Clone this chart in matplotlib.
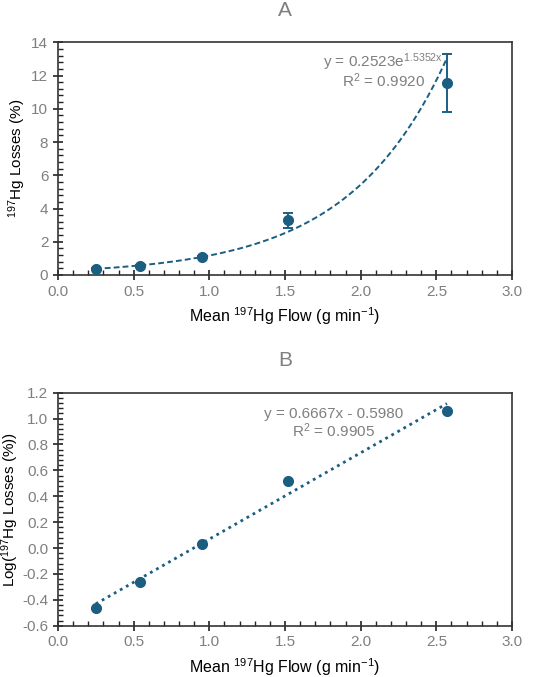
import numpy as np
import matplotlib
matplotlib.use('Agg')
import matplotlib.pyplot as plt
import matplotlib.ticker as mticker

# dados
fluxo = [0.25, 0.54, 0.95, 1.52, 2.57]
perdas = [0.35, 0.55, 1.08, 3.30, 11.55]
erro_perdas = [0.05, 0.05, 0.08, 0.45, 1.75]
log_perdas = [-0.46, -0.26, 0.03, 0.52, 1.06]

# coeficientes das linhas de tendencia (rotulos do grafico)
exp_a, exp_b = 0.2523, 1.5352
lin_m, lin_c = 0.6667, -0.5980

COR = '#1b5e82'
CINZA = '#7f7f7f'

plt.rcParams['font.family'] = ['Liberation Sans', 'DejaVu Sans']
plt.rcParams['mathtext.default'] = 'regular'

fig = plt.figure(figsize=(5.34, 6.77), dpi=100)
ax1 = fig.add_axes([0.1086, 0.5938, 0.8502, 0.3437])
ax2 = fig.add_axes([0.1086, 0.0758, 0.8502, 0.3442])


def estilo(ax, ymin, ymax, ymaj, ymin_step):
    ax.set_xlim(0, 3)
    ax.set_ylim(ymin, ymax)
    ax.xaxis.set_major_locator(mticker.MultipleLocator(0.5))
    ax.xaxis.set_minor_locator(mticker.MultipleLocator(0.1))
    ax.yaxis.set_major_locator(mticker.MultipleLocator(ymaj))
    ax.yaxis.set_minor_locator(mticker.MultipleLocator(ymin_step))
    ax.xaxis.set_major_formatter(mticker.FormatStrFormatter('%.1f'))
    ax.tick_params(which='major', direction='inout', length=7, width=1.2,
                   labelsize=11, colors='#222222')
    ax.tick_params(which='minor', direction='in', length=3.5, width=1,
                   colors='#222222')
    ax.tick_params(axis='both', which='major', labelcolor=CINZA)
    for s in ax.spines.values():
        s.set_color('#333333')
        s.set_linewidth(1.2)
    ax.set_xlabel('Mean $^{197}$Hg Flow (g min$^{-1}$)', fontsize=11.5, labelpad=5)


# --- grafico A ---
estilo(ax1, 0, 14, 2, 0.4)
ax1.yaxis.set_major_formatter(mticker.FormatStrFormatter('%d'))
xx = np.linspace(fluxo[0], fluxo[-1], 200)
ax1.plot(xx, exp_a * np.exp(exp_b * xx), linestyle=(0, (3, 1.6)), color=COR, lw=1.4)
ax1.errorbar(fluxo, perdas, yerr=erro_perdas, fmt='o', color=COR, ms=7,
             capsize=3.5, elinewidth=1.4, capthick=1.4, zorder=3)
ax1.set_ylabel('$^{197}$Hg Losses (%)', fontsize=11, va='center')
ax1.yaxis.set_label_coords(-0.09, 0.5)
ax1.text(2.15, 12.8, 'y = 0.2523e$^{1.5352x}$', ha='center', va='center',
         color=CINZA, fontsize=11)
ax1.text(2.15, 11.67, 'R$^{2}$ = 0.9920', ha='center', va='center',
         color=CINZA, fontsize=11)
fig.text(0.5335, 0.985, 'A', ha='center', va='center', fontsize=15, color=CINZA)

# --- grafico B ---
estilo(ax2, -0.6, 1.2, 0.2, 0.04)
ax2.yaxis.set_major_formatter(mticker.FormatStrFormatter('%.1f'))
ax2.plot(xx, lin_m * xx + lin_c, linestyle=(0, (1, 1.5)), color=COR, lw=2)
ax2.plot(fluxo, log_perdas, 'o', color=COR, ms=7, zorder=3)
ax2.set_ylabel('Log($^{197}$Hg Losses (%))', fontsize=11, va='center')
ax2.yaxis.set_label_coords(-0.106, 0.5)
ax2.text(1.82, 1.035, 'y = 0.6667x - 0.5980', ha='center', va='center',
         color=CINZA, fontsize=11)
ax2.text(1.82, 0.904, 'R$^{2}$ = 0.9905', ha='center', va='center',
         color=CINZA, fontsize=11)
fig.text(0.5335, 0.468, 'B', ha='center', va='center', fontsize=15, color=CINZA)

plt.savefig('out.png', dpi=100)
plt.close(fig)
